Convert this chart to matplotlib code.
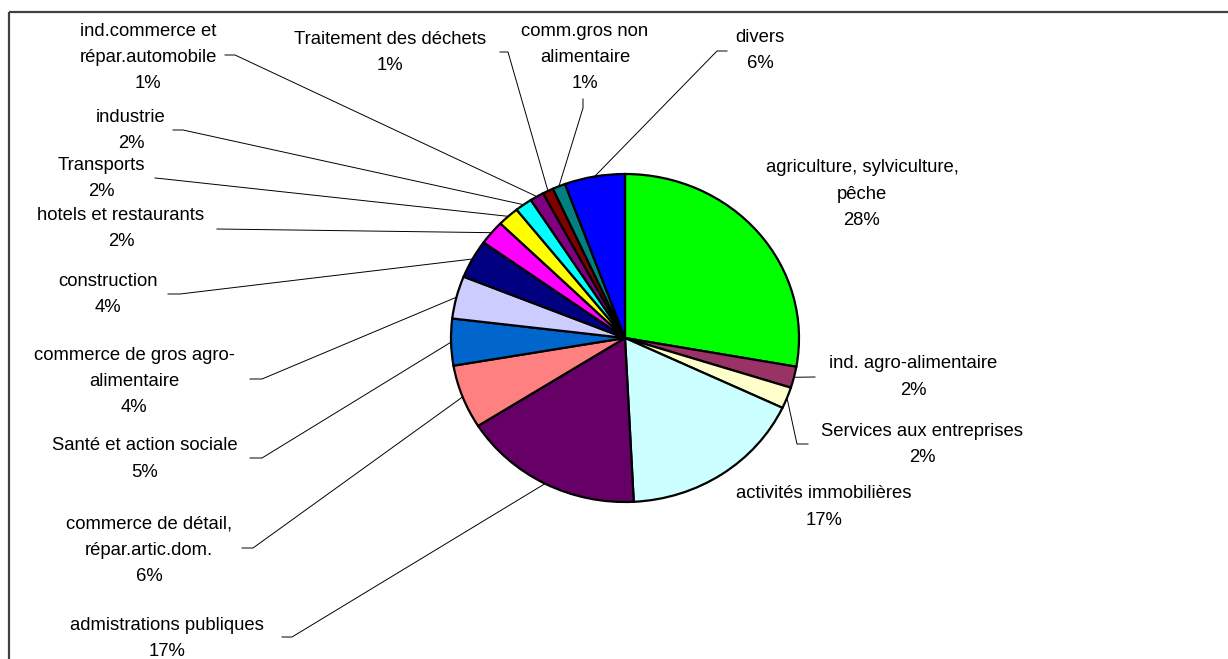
import numpy as np
import matplotlib
matplotlib.use("Agg")
import matplotlib.pyplot as plt

plt.rcParams['font.family'] = ['Liberation Sans', 'DejaVu Sans']

# ---- data (clockwise from 12 o'clock) ----
names = [
    "agriculture, sylviculture,\npêche",
    "ind. agro-alimentaire",
    "Services aux entreprises",
    "activités immobilières",
    "admistrations publiques",
    "commerce de détail,\nrépar.artic.dom.",
    "Santé et action sociale",
    "commerce de gros agro-\nalimentaire",
    "construction",
    "hotels et restaurants",
    "Transports",
    "industrie",
    "ind.commerce et\nrépar.automobile",
    "Traitement des déchets",
    "comm.gros non\nalimentaire",
    "divers",
]
values = [27.8, 2.1, 2.1, 17.2, 16.8, 6.3, 4.6, 4.2, 3.8, 2.4, 2.0, 1.6, 1.3, 1.0, 1.2, 5.6]
colors = ["#00FF00", "#993366", "#FFFFCC", "#CCFFFF", "#660066", "#FF8080",
          "#0066CC", "#CCCCFF", "#000080", "#FF00FF", "#FFFF00", "#00FFFF",
          "#800080", "#800000", "#008080", "#0000FF"]

# ---- layout (pixels) ----
W, H = 1228, 659
cx, cy, rx, ry = 625, 338, 174, 164

# label text centre positions (x, y of first line centre)
label_pos = [
    (862, 166), (913, 362), (922, 429), (824, 492), (167, 623), (149, 522),
    (145, 444), (134, 353), (108, 279), (121, 213), (101, 163), (131, 115),
    (148, 29), (390, 37), (585, 29), (760, 35),
]
# leader polyline start points (near label); None -> no leader
leader_start = [
    None,
    [(815, 377)],
    [(808, 444), (797, 444)],
    None,
    [(282, 637), (292, 637)],
    [(242, 548), (253, 548)],
    [(250, 458), (262, 458)],
    [(250, 379), (262, 379)],
    [(168, 294), (180, 294)],
    [(217, 229)],
    [(155, 178), (165, 179)],
    [(173, 130), (183, 130)],
    [(225, 55), (235, 55)],
    [(500, 52), (508, 52)],
    [(583, 99), (583, 108)],
    [(727, 51), (717, 51)],
]

fig = plt.figure(figsize=(W / 100, H / 100), dpi=100)

# pie axes (slightly elliptical, as in reference)
pax = fig.add_axes([(cx - rx) / W, 1 - (cy + ry) / H, 2 * rx / W, 2 * ry / H])
pax.pie(values, colors=colors, startangle=90, counterclock=False, radius=1,
        wedgeprops=dict(edgecolor="black", linewidth=1.6))
pax.set_aspect('auto')
pax.set_xlim(-1, 1)
pax.set_ylim(-1, 1)
pax.axis('off')

# overlay axes in pixel coordinates
ax = fig.add_axes([0, 0, 1, 1], facecolor='none')
ax.set_xlim(0, W)
ax.set_ylim(H, 0)
ax.axis('off')

# frame (top and left edges)
ax.plot([9, W], [12, 12], color="#404040", lw=1.6, solid_capstyle='butt')
ax.plot([9, 9], [12, H], color="#404040", lw=1.6, solid_capstyle='butt')

total = sum(values)
cum = 0.0
for i, v in enumerate(values):
    mid = (cum + v / 2) / total * 2 * np.pi
    cum += v
    ex = cx + rx * np.sin(mid)
    ey = cy - ry * np.cos(mid)
    pct = int(round(v / total * 100))
    txt = f"{names[i]}\n{pct}%"
    lx, ly = label_pos[i]
    ax.text(lx, ly - 6.5, txt, ha='center', va='top', fontsize=13.3,
            linespacing=1.73, color='black')
    if leader_start[i] is not None:
        pts = leader_start[i] + [(ex, ey)]
        xs, ys = zip(*pts)
        ax.plot(xs, ys, color='black', lw=0.7)

fig.savefig("out.png", dpi=100)
